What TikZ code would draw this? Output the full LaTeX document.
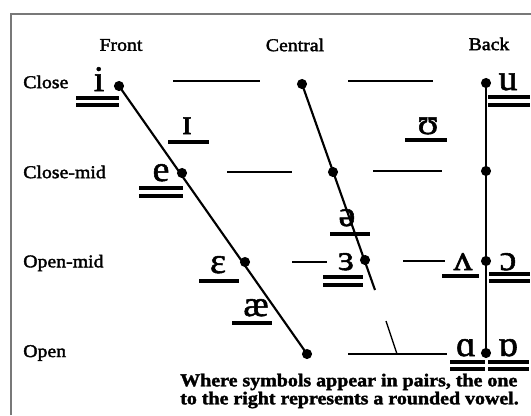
\documentclass[tikz,border=0pt]{standalone}
\usepackage{fontspec}
\setmainfont{Liberation Serif}[FakeStretch=1.1,FakeBold=2]
\newfontfamily\ipafont{Liberation Serif}[FakeStretch=1.05,FakeBold=1.5]
\usetikzlibrary{positioning}

\tikzset{
  lbl/.style={inner sep=0pt,font=\fontsize{13.5}{13.5}\selectfont},
  vow/.style={inner sep=0pt,anchor=base,font=\ipafont\fontsize{27}{27}\selectfont},
  vdot/.style={circle,fill=black,inner sep=0pt,minimum size=7.6pt},
  bar/.style={line width=3.4pt},
  dbar/.style={line width=2.3pt},
  guide/.style={line width=1pt},
  slope/.style={line width=1.6pt},
}

\begin{document}
\begin{tikzpicture}[x=0.75pt,y=0.75pt,yscale=-1,xscale=1]
\useasboundingbox (0,0) rectangle (531,415);

%Frame
\draw [line width=1.1pt,color={rgb,255:red,120;green,120;blue,120}] (11,415) -- (11,14) -- (531,14) ;

%Column and row labels
\node [lbl] (front) at (121,45) {Front};
\node [lbl] (central) at (295,45) {Central};
\node [lbl] (back) at (489,44) {Back};
\node [lbl,anchor=west] (close) at (23,82) {Close};
\node [lbl,anchor=west] (closemid) at (23,172) {Close-mid};
\node [lbl,anchor=west] (openmid) at (23,263) {Open-mid};
\node [lbl,anchor=west] (open) at (23,353) {Open};

%Dots
\node [vdot] (fc) at (119,86) {};
\node [vdot] (fcm) at (182,173) {};
\node [vdot] (fom) at (245,262) {};
\node [vdot] (fo) at (307,354) {};
\node [vdot] (cc) at (302,84) {};
\node [vdot] (ccm) at (333,172) {};
\node [vdot] (com) at (365,260) {};
\coordinate (cend) at (375,290);
\node [vdot] (bc) at (486,83) {};
\node [vdot] (bcm) at (486,171) {};
\node [vdot] (bom) at (486,261) {};
\node [vdot] (bo) at (486,353) {};

%Tongue lines
\draw [slope] (fc.center) -- (fo.center) ;
\draw [slope] (cc.center) -- (cend) ;
\draw [slope] (bc.center) -- (bo.center) ;

%Guide lines
\draw [guide] (173,81) -- (260,81) ;
\draw [guide] (348,81) -- (433,81) ;
\draw [guide] (227,172) -- (292,172) ;
\draw [guide] (373,171) -- (442,171) ;
\draw [guide] (292,262) -- (327,262) ;
\draw [guide] (403,261) -- (445,261) ;
\draw [guide] (348,354) -- (447,354) ;
\draw [guide] (386,321) -- (397,354) ;

%Vowels
\node [vow] (i) at (99,91) {i};
\node [vow] (ih) at (187,134) {ɪ};
\node [vow] (e) at (161,181) {e};
\node [vow] (eh) at (218,273) {ɛ};
\node [vow] (ae) at (256,316) {æ};
\node [vow] (schwa) at (347,226) {ə};
\node [vow] (er) at (346,270) {ɜ};
\node [vow] (uh) at (428,134) {ʊ};
\node [vow] (u) at (508,90) {u};
\node [vow] (vv) at (463,270) {ʌ};
\node [vow] (oo) at (508,270) {ɔ};
\node [vow] (aa) at (466,356) {ɑ};
\node [vow] (ao) at (508,356) {ɒ};

%Underlines
\draw [dbar] (76,98) -- (119,98) (76,105) -- (119,105) ;
\draw [bar] (168,142) -- (209,142) ;
\draw [dbar] (139,188) -- (183,188) (139,196) -- (183,196) ;
\draw [bar] (199,281) -- (239,281) ;
\draw [bar] (232,323) -- (272,323) ;
\draw [bar] (330,234) -- (370,234) ;
\draw [dbar] (323,277) -- (363,277) (323,285) -- (363,285) ;
\draw [bar] (405,140) -- (447,140) ;
\draw [dbar] (488,97) -- (530,97) (488,105) -- (530,105) ;
\draw [bar] (442,276) -- (479,276) ;
\draw [dbar] (489,274) -- (530,274) (489,281) -- (530,281) ;
\draw [dbar] (450,362) -- (485,362) (450,369) -- (485,369) ;
\draw [dbar] (488,362) -- (529,362) (488,369) -- (529,369) ;

%Caption
\node [anchor=west,inner sep=0pt,align=left,font=\bfseries\fontsize{13.6}{13.5}\selectfont] (note) at (180,391)
  {Where symbols appear in pairs, the one\\to the right represents a rounded vowel.};

\end{tikzpicture}
\end{document}
